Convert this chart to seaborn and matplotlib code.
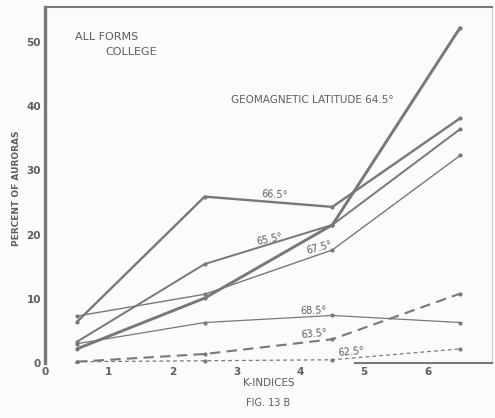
import pandas as pd
import matplotlib
matplotlib.use("Agg")
import matplotlib.pyplot as plt
import seaborn as sns

# K-index bin centres
k_index = [0.5, 2.5, 4.5, 6.5]

# percent of auroras per geomagnetic latitude
lat_645 = [2.2, 10.1, 21.5, 52.2]
lat_655 = [3.3, 15.4, 21.5, 36.4]
lat_665 = [6.4, 25.9, 24.3, 38.1]
lat_675 = [7.3, 10.7, 17.6, 32.3]
lat_685 = [3.0, 6.3, 7.4, 6.3]
lat_635 = [0.2, 1.4, 3.7, 10.8]
lat_625 = [0.2, 0.35, 0.5, 2.2]

x_ticks = [0, 1, 2, 3, 4, 5, 6]
y_ticks = [0, 10, 20, 30, 40, 50]

INK = "#787878"
TEXT = "#5e5e5e"

sns.set_style("white")
plt.rcParams["font.family"] = ["DejaVu Sans"]

fig = plt.figure(figsize=(4.95, 4.18), dpi=100, facecolor="#fbfbf9")
ax = fig.add_axes([0.0909, 0.1316, 0.9031, 0.8514])
ax.set_facecolor("#fbfbf9")

# (values, linewidth, dashes)
series = [
    (lat_645, 2.1, None),
    (lat_665, 1.7, None),
    (lat_655, 1.4, None),
    (lat_675, 1.0, None),
    (lat_685, 0.9, None),
    (lat_635, 1.5, (5, 3)),
    (lat_625, 0.9, (3, 2.5)),
]

for vals, lw, dash in series:
    df = pd.DataFrame({"k": k_index, "pct": vals})
    sns.lineplot(data=df, x="k", y="pct", ax=ax, color=INK, linewidth=lw,
                 marker="o", markersize=3.0, markeredgewidth=0,
                 legend=False)
    if dash is not None:
        ax.lines[-1].set_dashes(dash)

ax.set_xlim(0, 7)
ax.set_ylim(0, 55.4)
ax.set_xticks(x_ticks)
ax.set_yticks(y_ticks)
ax.set_yticks([5, 15, 25, 35, 45], minor=True)
ax.tick_params(axis="both", direction="in", colors=INK, labelcolor=TEXT,
               labelsize=7.5, length=5, width=1.1, pad=3)
ax.tick_params(axis="y", which="minor", direction="in", color=INK,
               length=3, width=1.0)
ax.set_xticklabels([str(v) for v in x_ticks], fontweight="bold")
ax.set_yticklabels([str(v) for v in y_ticks], fontweight="bold")

for side in ax.spines.values():
    side.set_color(INK)
ax.spines["left"].set_linewidth(2.4)
ax.spines["top"].set_linewidth(1.5)
ax.spines["right"].set_linewidth(0.6)
ax.spines["right"].set_color("#c4c4c4")
ax.spines["bottom"].set_linewidth(1.5)
ax.spines["bottom"].set_bounds(4.85, 7)

ax.set_xlabel("K-INDICES", fontsize=7.5, color=TEXT)
ax.xaxis.set_label_coords(0.5, -0.056)
ax.xaxis.label.set_va("center")
ax.set_ylabel("PERCENT OF AURORAS", fontsize=6.5, color=TEXT,
              fontweight="bold")
ax.yaxis.set_label_coords(-0.064, 0.49)
ax.yaxis.label.set_va("center")
fig.text(0.542, 0.036, "FIG. 13 B", fontsize=7, color=TEXT,
         ha="center", va="center")

ax.text(0.47, 50.7, "ALL FORMS", fontsize=8, color=TEXT, va="center")
ax.text(0.94, 48.4, "COLLEGE", fontsize=8, color=TEXT, va="center")
ax.text(2.92, 40.9, "GEOMAGNETIC LATITUDE 64.5°", fontsize=7.5, color=TEXT,
        va="center")

labels = [
    ("66.5°", 3.59, 26.2, -3),
    ("65.5°", 3.52, 19.2, 12),
    ("67.5°", 4.30, 18.0, 15),
    ("68.5°", 4.20, 8.2, 1),
    ("63.5°", 4.22, 4.5, 5),
    ("62.5°", 4.80, 1.8, 5),
]
for txt, lx, ly, rot in labels:
    ax.text(lx, ly, txt, fontsize=7, color=TEXT, ha="center", va="center",
            rotation=rot)

fig.savefig("out.png", dpi=100, facecolor=fig.get_facecolor())
